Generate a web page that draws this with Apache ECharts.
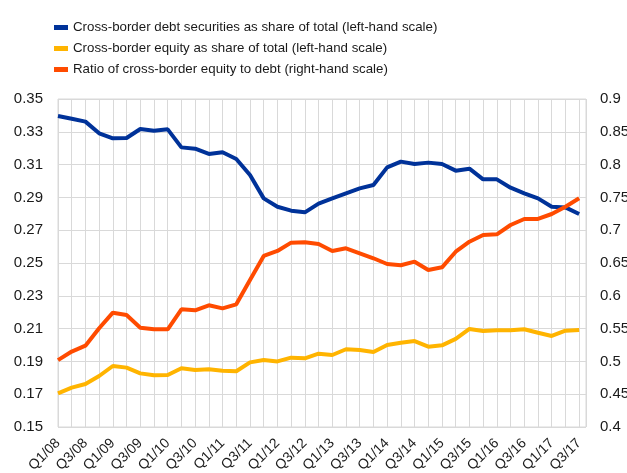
<!DOCTYPE html>
<html>
<head>
<meta charset="utf-8">
<script src="https://cdn.jsdelivr.net/npm/echarts@6/dist/echarts.min.js"></script>
<style>
  html, body { margin: 0; padding: 0; background: #fff; }
  #main { width: 627px; height: 473px; }
</style>
</head>
<body>
<div id="main"></div>
<script>
// quarters Q1/08 .. Q3/17
const quarters = [];
for (let y = 8; y <= 17; y++) {
  for (let q = 1; q <= 4; q++) {
    if (y === 17 && q > 3) break;
    quarters.push("Q" + q + "/" + (y < 10 ? "0" + y : y));
  }
}

const debtShare = [
  0.3396, 0.3380, 0.3362, 0.3291, 0.3260, 0.3262, 0.3317, 0.3307, 0.3315, 0.3205,
  0.3197, 0.3165, 0.3175, 0.3134, 0.3037, 0.2894, 0.2843, 0.2819, 0.2809, 0.2862,
  0.2894, 0.2925, 0.2955, 0.2976, 0.3083, 0.3118, 0.3104, 0.3112, 0.3104, 0.3063,
  0.3075, 0.3010, 0.3010, 0.2959, 0.2925, 0.2894, 0.2843, 0.2839, 0.2799
];
const equityShare = [
  0.1705, 0.1740, 0.1762, 0.1811, 0.1872, 0.1862, 0.1827, 0.1815, 0.1817, 0.1858,
  0.1848, 0.1852, 0.1843, 0.1840, 0.1894, 0.1909, 0.1900, 0.1923, 0.1919, 0.1947,
  0.1939, 0.1974, 0.1970, 0.1957, 0.2000, 0.2014, 0.2024, 0.1990, 0.1998, 0.2037,
  0.2098, 0.2085, 0.2090, 0.2090, 0.2096, 0.2075, 0.2055, 0.2087, 0.2091
];
const equityToDebt = [
  0.502, 0.515, 0.524, 0.5505, 0.5743, 0.5707, 0.5514, 0.5489, 0.5489, 0.5794,
  0.5779, 0.5855, 0.5809, 0.5870, 0.6241, 0.6607, 0.6683, 0.681, 0.6815, 0.679,
  0.6683, 0.6724, 0.6648, 0.6572, 0.6485, 0.6465, 0.652, 0.6393, 0.6434, 0.6672,
  0.6825, 0.6927, 0.6937, 0.7079, 0.7171, 0.7171, 0.7247, 0.7358, 0.7486
];

const seriesNames = [
  "Cross-border debt securities as share of total (left-hand scale)",
  "Cross-border equity as share of total (left-hand scale)",
  "Ratio of cross-border equity to debt (right-hand scale)"
];
const colors = ["#003299", "#FFB400", "#FF4B00"];

const toPairs = (arr) => arr.map((v, i) => [i, v]);

var chartDom = document.getElementById("main");
var myChart = echarts.init(chartDom);
var option;

const fontFam = "Liberation Sans, Arial, sans-serif";

option = {
  animation: false,
  color: colors,
  legend: {
    orient: "vertical",
    left: 49,
    top: 16,
    itemWidth: 14,
    itemHeight: 5,
    itemGap: 8,
    itemTextGap: 8,
    icon: "rect",
    textStyle: { fontFamily: fontFam, fontSize: 13.3, color: "#1a1a1a" },
    data: seriesNames
  },
  grid: {
    left: 58, right: 41, top: 99, bottom: 46,
    outerBoundsMode: "none", // let right-hand labels run off the edge like the original
    show: true, borderColor: "#d9d9d9", borderWidth: 1, backgroundColor: "transparent"
  },
  xAxis: {
    type: "value",
    min: 0,
    max: quarters.length - 0.5,
    interval: 1,
    axisLine: { show: false },
    axisTick: { show: false },
    splitLine: { show: true, lineStyle: { color: "#d9d9d9", width: 1 } },
    axisLabel: {
      fontFamily: fontFam,
      fontSize: 14,
      color: "#1a1a1a",
      rotate: 45,
      margin: 14,
      showMinLabel: true,
      showMaxLabel: true,
      formatter: function (v) {
        if (Math.abs(v - Math.round(v)) > 1e-6) return "";
        const i = Math.round(v);
        return i % 2 === 0 ? quarters[i] : "";
      }
    }
  },
  yAxis: [
    {
      type: "value",
      min: 0.15,
      max: 0.35,
      interval: 0.02,
      axisLine: { show: false },
      axisTick: { show: false },
      splitLine: { show: true, lineStyle: { color: "#d9d9d9", width: 1 } },
      axisLabel: {
        fontFamily: fontFam,
        fontSize: 15,
        color: "#1a1a1a",
        margin: 15,
        formatter: (v) => String(Math.round(v * 100) / 100)
      }
    },
    {
      type: "value",
      min: 0.4,
      max: 0.9,
      interval: 0.05,
      axisLine: { show: false },
      axisTick: { show: false },
      splitLine: { show: false },
      axisLabel: {
        fontFamily: fontFam,
        fontSize: 15,
        color: "#1a1a1a",
        margin: 14,
        formatter: (v) => String(Math.round(v * 100) / 100)
      }
    }
  ],
  series: [
    {
      name: seriesNames[0],
      type: "line",
      yAxisIndex: 0,
      showSymbol: false,
      lineStyle: { width: 4, color: colors[0] },
      data: toPairs(debtShare)
    },
    {
      name: seriesNames[1],
      type: "line",
      yAxisIndex: 0,
      showSymbol: false,
      lineStyle: { width: 4, color: colors[1] },
      data: toPairs(equityShare)
    },
    {
      name: seriesNames[2],
      type: "line",
      yAxisIndex: 1,
      showSymbol: false,
      lineStyle: { width: 4, color: colors[2] },
      data: toPairs(equityToDebt)
    }
  ]
};

myChart.setOption(option);
</script>
</body>
</html>
